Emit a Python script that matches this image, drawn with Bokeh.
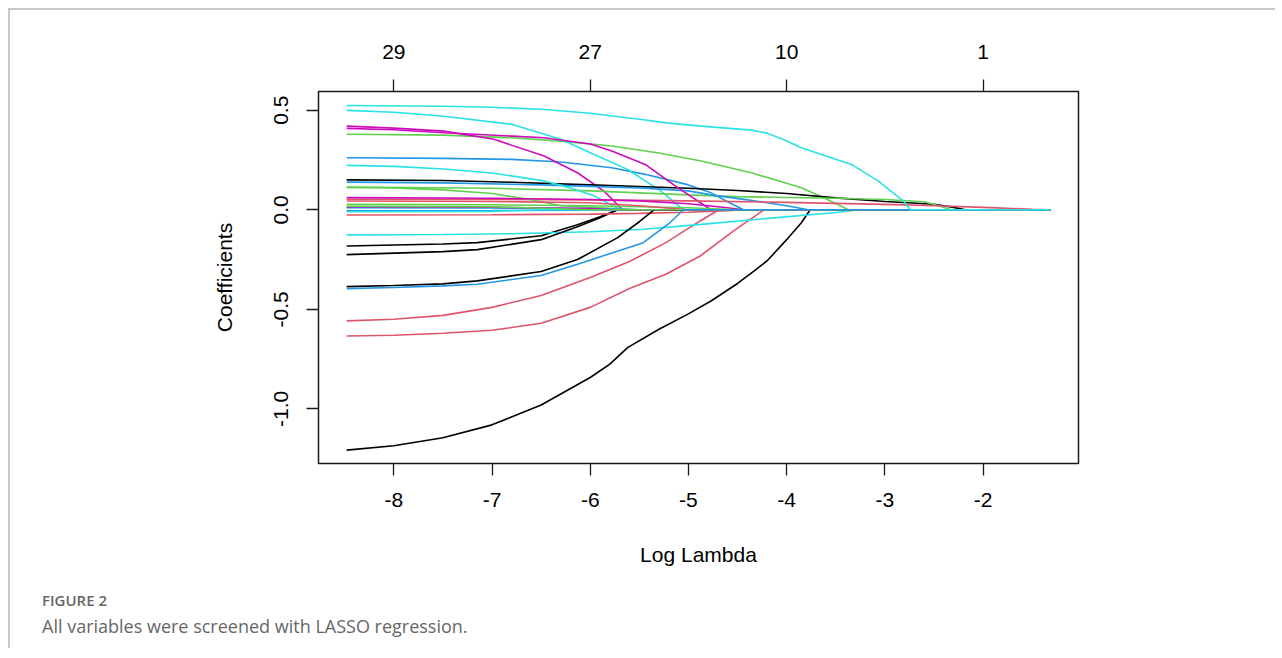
from bokeh.plotting import figure
from bokeh.models import ColumnDataSource, FixedTicker, LinearAxis, Range1d, Div
from bokeh.layouts import column
from bokeh.embed import file_html
from bokeh.resources import INLINE

# ---------------- data ----------------
log_lambda_min = -8.48
log_lambda_max = -1.315

bottom_ticks = [-8, -7, -6, -5, -4, -3, -2]
bottom_tick_labels = ["-8", "-7", "-6", "-5", "-4", "-3", "-2"]
top_ticks = [-8, -6, -4, -2]
top_tick_labels = ["29", "27", "10", "1"]          # number of non-zero coefficients
y_ticks = [-1.0, -0.5, 0.0, 0.5]
y_tick_labels = ["-1.0", "-0.5", "0.0", "0.5"]

# R default palette used by matplot (col = 1:6)
palette = ["#000000", "#DF536B", "#61D04F", "#2297E6", "#28E2E5", "#CD0BBC"]

# coefficient paths, variable 1..29 (knots: log lambda, coefficient)
path_x = [
    [-8.48, -8.0, -7.5, -7.0, -6.5, -6.0, -5.8, -5.62, -5.3, -5.01, -4.77, -4.5, -4.33, -4.2, -4.0, -3.85, -3.76],
    [-8.48, -8.0, -7.5, -7.0, -6.5, -6.0, -5.6, -5.23, -4.88, -4.69],
    [-8.48, -7.5, -6.8, -6.3, -5.78, -5.3, -4.87, -4.36, -3.85, -3.59, -3.37],
    [-8.48, -7.5, -6.8, -6.3, -5.78, -5.44, -5.0, -4.77, -4.6, -4.44],
    [-8.48, -8.0, -7.49, -6.8, -6.3, -5.96, -5.62, -5.28, -5.05],
    [-8.48, -8.0, -7.49, -6.98, -6.47, -6.13, -5.86, -5.67],
    [-8.48, -7.5, -6.8, -6.0, -5.0, -4.5, -4.0, -3.5, -3.0, -2.5, -2.3, -2.18],
    [-8.48, -8.0, -7.5, -7.0, -6.5, -6.0, -5.6, -5.23, -4.88, -4.54, -4.23],
    [-8.48, -7.0, -6.0, -5.0, -4.5, -4.0, -3.5, -3.0, -2.6, -2.45, -2.33],
    [-8.48, -7.5, -6.5, -5.5, -5.0, -4.77, -4.4, -4.0, -3.78],
    [-8.48, -8.0, -7.49, -7.0, -6.47, -6.2, -5.96, -5.69],
    [-8.48, -8.0, -7.49, -6.47, -6.0, -5.78, -5.44, -5.11, -4.77],
    [-8.48, -7.5, -7.15, -6.5, -6.13, -5.9, -5.72],
    [-8.48, -7.0, -6.0, -5.0, -4.0, -3.5, -3.0, -2.5, -2.0, -1.5, -1.315],
    [-8.48, -8.0, -7.5, -7.0, -6.6, -6.3, -5.8, -5.5],
    [-8.48, -7.0, -6.0, -5.5],
    [-8.48, -7.5, -6.8, -6.0, -5.46, -4.87, -4.19, -3.52, -3.25],
    [-8.48, -7.0, -6.0, -5.5, -5.0, -4.6, -4.45],
    [-8.48, -7.5, -7.15, -6.5, -6.13, -5.9, -5.72],
    [-8.48, -7.0, -6.0, -5.5, -5.0, -4.6, -4.45],
    [-8.48, -7.0, -6.0, -5.0, -4.5],
    [-8.48, -7.0, -6.0, -5.5],
    [-8.48, -7.0, -6.5],
    [-8.48, -7.0, -6.0, -5.8],
    [-8.48, -8.0, -7.5, -7.15, -6.5, -6.13, -5.72, -5.5, -5.35],
    [-8.48, -7.0, -6.0, -5.5, -5.0],
    [-8.48, -7.0, -6.3, -6.0],
    [-8.48, -8.0, -7.5, -7.15, -6.5, -6.13, -5.46, -5.2, -5.05],
    [-8.48, -7.5, -7.0, -6.5, -6.0, -5.5, -5.2, -4.87, -4.36, -4.2, -4.02, -3.85, -3.6, -3.34, -3.07, -2.81, -2.74],
]
path_y = [
    [-1.207, -1.185, -1.145, -1.08, -0.98, -0.842, -0.775, -0.692, -0.60, -0.525, -0.458, -0.37, -0.307, -0.257, -0.15, -0.065, 0.0],
    [-0.558, -0.55, -0.53, -0.49, -0.43, -0.34, -0.26, -0.165, -0.056, 0.0],
    [0.379, 0.375, 0.362, 0.345, 0.32, 0.285, 0.245, 0.186, 0.111, 0.053, 0.0],
    [0.261, 0.258, 0.253, 0.24, 0.211, 0.178, 0.125, 0.085, 0.04, 0.0],
    [0.499, 0.49, 0.47, 0.429, 0.354, 0.278, 0.203, 0.094, 0.0],
    [0.42, 0.41, 0.395, 0.354, 0.27, 0.186, 0.094, 0.0],
    [0.150, 0.147, 0.138, 0.125, 0.108, 0.097, 0.082, 0.06, 0.042, 0.028, 0.012, 0.0],
    [-0.634, -0.63, -0.62, -0.605, -0.57, -0.49, -0.395, -0.324, -0.232, -0.106, 0.0],
    [0.114, 0.108, 0.095, 0.075, 0.066, 0.062, 0.058, 0.052, 0.04, 0.02, 0.0],
    [0.139, 0.135, 0.125, 0.11, 0.095, 0.075, 0.05, 0.02, 0.0],
    [0.223, 0.218, 0.205, 0.185, 0.145, 0.11, 0.07, 0.0],
    [0.409, 0.402, 0.387, 0.362, 0.33, 0.295, 0.228, 0.111, 0.0],
    [-0.182, -0.172, -0.165, -0.13, -0.075, -0.035, 0.0],
    [0.053, 0.052, 0.05, 0.045, 0.037, 0.032, 0.027, 0.02, 0.012, 0.003, 0.0],
    [0.112, 0.11, 0.10, 0.082, 0.05, 0.02, 0.008, 0.0],
    [0.01, 0.009, 0.006, 0.0],
    [-0.126, -0.124, -0.12, -0.11, -0.098, -0.073, -0.043, -0.015, 0.0],
    [0.061, 0.058, 0.052, 0.045, 0.03, 0.01, 0.0],
    [-0.225, -0.21, -0.20, -0.15, -0.085, -0.04, 0.0],
    [-0.026, -0.025, -0.022, -0.018, -0.012, -0.004, 0.0],
    [0.027, 0.025, 0.02, 0.01, 0.0],
    [-0.005, -0.004, -0.002, 0.0],
    [-0.01, -0.008, 0.0],
    [0.015, 0.013, 0.006, 0.0],
    [-0.386, -0.38, -0.372, -0.357, -0.31, -0.25, -0.14, -0.06, 0.0],
    [0.044, 0.042, 0.035, 0.02, 0.0],
    [0.018, 0.015, 0.005, 0.0],
    [-0.396, -0.39, -0.382, -0.374, -0.33, -0.274, -0.165, -0.07, 0.0],
    [0.524, 0.52, 0.515, 0.505, 0.485, 0.455, 0.435, 0.42, 0.40, 0.385, 0.35, 0.312, 0.27, 0.228, 0.145, 0.044, 0.0],
]

caption_label = "FIGURE 2"
caption_text = "All variables were screened with LASSO regression."

# ---------------- build ----------------
xs, ys, cols = [], [], []
for i, (px, py) in enumerate(zip(path_x, path_y)):
    px = list(px)
    py = list(py)
    if px[-1] < log_lambda_max:          # coefficient stays at zero afterwards
        px.append(log_lambda_max)
        py.append(0.0)
    xs.append(px)
    ys.append(py)
    cols.append(palette[i % len(palette)])

FONT = "Liberation Sans"
W = 1265

p = figure(width=W, height=575,
           x_range=Range1d(-8.767, -1.028), y_range=Range1d(-1.274, 0.594),
           output_backend="svg", toolbar_location=None,
           min_border_left=308, min_border_right=W - 1068,
           min_border_top=81, min_border_bottom=575 - 453,
           x_axis_label="Log Lambda", y_axis_label="Coefficients")
p.grid.visible = False
p.outline_line_color = "#1a1a1a"
p.outline_line_width = 1.5
p.background_fill_color = "white"
p.border_fill_color = "white"

src = ColumnDataSource(dict(xs=xs, ys=ys, color=cols))
p.multi_line(xs="xs", ys="ys", line_color="color", line_width=1.6, source=src)


def style_axis(ax):
    ax.axis_line_color = None
    ax.minor_tick_line_color = None
    ax.major_tick_in = 0
    ax.major_tick_out = 12
    ax.major_tick_line_color = "#1a1a1a"
    ax.major_tick_line_width = 1.3
    ax.major_label_text_font = FONT
    ax.major_label_text_font_size = "21px"
    ax.major_label_text_color = "black"
    ax.axis_label_text_font = FONT
    ax.axis_label_text_font_size = "21px"
    ax.axis_label_text_font_style = "normal"
    ax.axis_label_text_color = "black"


xa = p.xaxis[0]
xa.ticker = FixedTicker(ticks=bottom_ticks)
xa.major_label_overrides = {t: l for t, l in zip(bottom_ticks, bottom_tick_labels)}
style_axis(xa)
xa.major_label_standoff = 17
xa.axis_label_standoff = 33

ya = p.yaxis[0]
ya.ticker = FixedTicker(ticks=y_ticks)
ya.major_label_overrides = {t: l for t, l in zip(y_ticks, y_tick_labels)}
style_axis(ya)
ya.major_label_orientation = "vertical"
ya.major_label_standoff = 18
ya.axis_label_standoff = 36

top = LinearAxis(ticker=FixedTicker(ticks=top_ticks),
                 major_label_overrides={t: l for t, l in zip(top_ticks, top_tick_labels)})
style_axis(top)
top.major_label_standoff = 21
p.add_layout(top, "above")

caption = Div(
    text=(
        '<div style="padding:5px 0 0 32px; font-family:\'Open Sans\'; color:#666666;">'
        f'<div style="font-size:15px; line-height:20px; font-weight:600;">{caption_label}</div>'
        f'<div style="font-size:18px; line-height:26px; margin-top:3px;">{caption_text}</div>'
        '</div>'
    ),
    width=W, height=63, margin=0,
)

layout = column(p, caption,
                styles={"border-top": "2px solid #c8c8c8",
                        "border-left": "2px solid #c8c8c8",
                        "margin-top": "8px", "margin-left": "8px"})

open("out.html", "w").write(file_html(layout, INLINE))
